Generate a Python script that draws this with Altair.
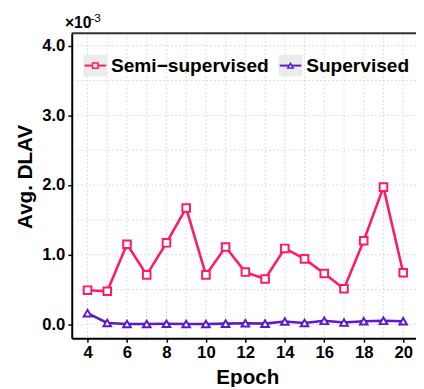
import altair as alt
import pandas as pd

# ---- data ----
epochs = list(range(4, 21))
semi_values = [0.49, 0.475, 1.15, 0.71, 1.17, 1.67, 0.71, 1.11, 0.75, 0.65,
               1.09, 0.94, 0.73, 0.51, 1.20, 1.97, 0.74]
sup_values = [0.16, 0.02, 0.005, 0.005, 0.008, 0.005, 0.005, 0.01, 0.015, 0.01,
              0.04, 0.02, 0.05, 0.025, 0.045, 0.05, 0.045]
series = ["Semi\u2212supervised", "Supervised"]
colors = ["#FF1A66", "#5B1BC9"]
shapes = ["square", "triangle-up"]
x_ticks = [4, 6, 8, 10, 12, 14, 16, 18, 20]
y_ticks = [0, 1, 2, 3, 4]
x_grid = list(range(4, 21))
y_grid = [0, 0.5, 1, 1.5, 2, 2.5, 3, 3.5, 4]

rows = []
for s, vals in zip(series, [semi_values, sup_values]):
    for e, v in zip(epochs, vals):
        rows.append({"epoch": e, "value": v, "series": s})
df = pd.DataFrame(rows)

FONT = "Liberation Sans"
W, H = 351, 311

xscale = alt.Scale(domain=[3.2, 20.65], nice=False, zero=False)
yscale = alt.Scale(domain=[-0.2, 4.18], nice=False, zero=False)

x_axis = alt.Axis(values=x_ticks, title="Epoch", grid=False,
                  labelFont=FONT, labelFontSize=17, labelFontWeight="bold",
                  labelColor="black", labelPadding=3,
                  tickColor="black", tickSize=4, tickWidth=1.5,
                  domainColor="black", domainWidth=2,
                  titleFont=FONT, titleFontSize=21, titleFontWeight="bold",
                  titleColor="black", titleX=179, titleY=46,
                  titleAlign="center", titleBaseline="alphabetic")
y_axis = alt.Axis(values=y_ticks, format=".1f", title="Avg. DLAV", grid=False,
                  labelFont=FONT, labelFontSize=17, labelFontWeight="bold",
                  labelColor="black", labelPadding=3,
                  tickColor="black", tickSize=4, tickWidth=1.5,
                  domainColor="black", domainWidth=2,
                  titleFont=FONT, titleFontSize=21, titleFontWeight="bold",
                  titleColor="black", titleX=-41, titleY=146, titleAngle=270,
                  titleAlign="center", titleBaseline="alphabetic")

color_scale = alt.Scale(domain=series, range=colors)
shape_scale = alt.Scale(domain=series, range=shapes)

grid_v = alt.Chart(pd.DataFrame({"epoch": x_grid})).mark_rule(
    color="#d2d2d2", strokeDash=[1.5, 2.5], strokeWidth=1
).encode(x=alt.X("epoch:Q", scale=xscale, axis=x_axis))

grid_h = alt.Chart(pd.DataFrame({"value": y_grid})).mark_rule(
    color="#d2d2d2", strokeDash=[1.5, 2.5], strokeWidth=1
).encode(y=alt.Y("value:Q", scale=yscale, axis=y_axis))

lines = alt.Chart(df).mark_line(strokeWidth=2.6).encode(
    x=alt.X("epoch:Q", scale=xscale, axis=x_axis),
    y=alt.Y("value:Q", scale=yscale, axis=y_axis),
    color=alt.Color("series:N", scale=color_scale, legend=None),
    detail="series:N",
)

points = alt.Chart(df).mark_point(filled=False, fill="white", fillOpacity=1,
                                  strokeWidth=2, size=60, opacity=1).encode(
    x=alt.X("epoch:Q", scale=xscale, axis=x_axis),
    y=alt.Y("value:Q", scale=yscale, axis=y_axis),
    color=alt.Color("series:N", scale=color_scale, legend=None),
    shape=alt.Shape("series:N", scale=shape_scale, legend=None),
)

one = pd.DataFrame({"a": [0]})
top_spine = alt.Chart(one).mark_rule(color="#333333", strokeWidth=2).encode(
    x=alt.value(0), x2=alt.value(W), y=alt.value(0))

exp_base = alt.Chart(one).mark_text(text="\u00d710", font=FONT, fontSize=16,
                                    fontWeight="bold", align="left",
                                    baseline="alphabetic", color="black").encode(
    x=alt.value(-7), y=alt.value(-5))
exp_sup = alt.Chart(one).mark_text(text="-3", font=FONT, fontSize=12,
                                   align="left", baseline="alphabetic",
                                   color="black").encode(
    x=alt.value(19), y=alt.value(-11))

# ---- manual legend (ggplot-like keys with grey background) ----
legend_layers = []
key_left = [12, 211]
for i, (name, col, shp) in enumerate(zip(series, colors, shapes)):
    x0 = key_left[i]
    legend_layers.append(alt.Chart(one).mark_rect(color="#EBEBEB").encode(
        x=alt.value(x0), x2=alt.value(x0 + 24), y=alt.value(22), y2=alt.value(44)))
    legend_layers.append(alt.Chart(one).mark_rule(color=col, strokeWidth=2).encode(
        x=alt.value(x0 + 1), x2=alt.value(x0 + 23), y=alt.value(33)))
    legend_layers.append(alt.Chart(one).mark_point(
        shape=shp, filled=False, fill="#EBEBEB", fillOpacity=1, color=col,
        strokeWidth=1.5, size=30, opacity=1).encode(
        x=alt.value(x0 + 12), y=alt.value(33)))
    legend_layers.append(alt.Chart(one).mark_text(
        font=FONT, fontSize=19.5, fontWeight="bold", align="left",
        baseline="middle", color="black").encode(
        x=alt.value(x0 + 28), y=alt.value(34), text=alt.value(name)))

chart = alt.layer(grid_v, grid_h, lines, points, top_spine, exp_base, exp_sup,
                  *legend_layers).properties(
    width=W, height=H,
    autosize=alt.AutoSizeParams(type="none"),
    padding={"left": 65, "top": 22, "right": 0, "bottom": 46},
).configure_view(stroke=None).configure(background="white")

chart.save("out.html", embed_options={"renderer": "svg", "actions": False})
